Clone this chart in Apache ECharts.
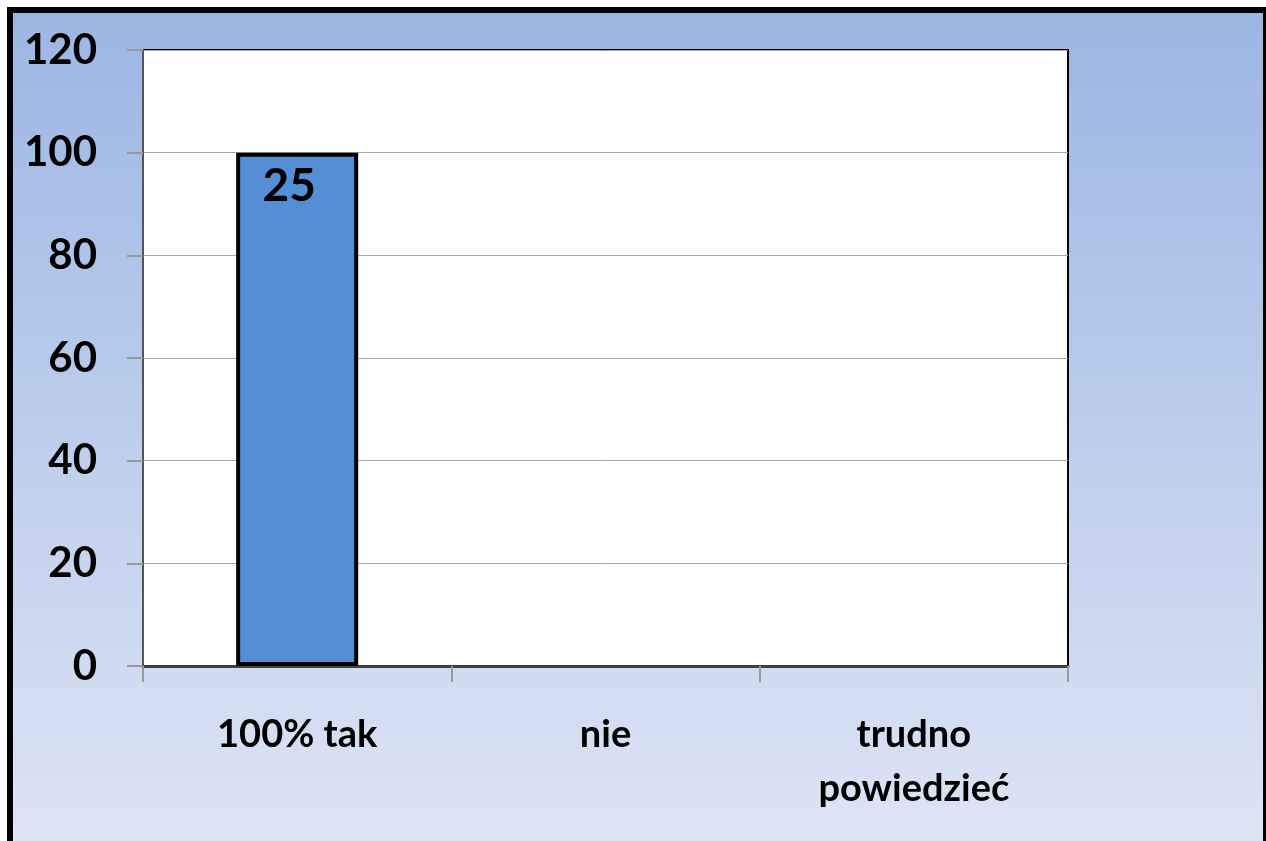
<!DOCTYPE html>
<html>
<head>
<meta charset="utf-8">
<script src="https://cdn.jsdelivr.net/npm/echarts@6/dist/echarts.min.js"></script>
<style>
  html, body { margin: 0; padding: 0; background: #fff; }
  #main { width: 1266px; height: 841px; }
</style>
</head>
<body>
<div id="main"></div>
<script>
// dane wykresu
var categories = ["100% tak", "nie", "trudno\npowiedzieć"];
var percentValues = [100, 0, 0];
var countValues = [25, 0, 0];
var yTicks = { min: 0, max: 120, interval: 20 };

var myChart = echarts.init(document.getElementById("main"));
var fontName = "Lato";

// zerowe słupki bez obramowania
var barData = percentValues.map(function (v) {
  return v > 0 ? { value: v } : { value: v, itemStyle: { borderWidth: 0 } };
});

var option = {
  animation: false,
  // ramka i tło z gradientem
  graphic: [
    {
      type: "rect",
      z: -10,
      shape: { x: 10, y: 10, width: 1256, height: 900 },
      style: {
        fill: new echarts.graphic.LinearGradient(0, 0, 0, 1, [
          { offset: 0, color: "#9bb5e3" },
          { offset: 1, color: "#e3e9f6" }
        ]),
        stroke: "#000",
        lineWidth: 6
      }
    }
  ],
  grid: {
    left: 143,
    top: 50,
    right: 198,
    bottom: 175,
    show: true,
    backgroundColor: "#fff",
    borderColor: "#000",
    borderWidth: 2
  },
  xAxis: {
    type: "category",
    data: categories,
    axisLine: { lineStyle: { color: "#404040", width: 3 } },
    axisTick: { show: true, length: 16, lineStyle: { color: "#999", width: 2 } },
    axisLabel: {
      margin: 42,
      color: "#000",
      fontFamily: fontName,
      fontWeight: "bold",
      fontSize: 38,
      lineHeight: 54
    }
  },
  yAxis: {
    type: "value",
    min: yTicks.min,
    max: yTicks.max,
    interval: yTicks.interval,
    axisLine: { show: true, lineStyle: { color: "#555", width: 2 } },
    axisTick: { show: true, length: 16, lineStyle: { color: "#999", width: 2 } },
    splitLine: { lineStyle: { color: "#a6a6a6", width: 1 } },
    axisLabel: {
      margin: 46,
      color: "#000",
      fontFamily: fontName,
      fontWeight: "bold",
      fontSize: 42
    }
  },
  series: [
    {
      type: "bar",
      data: barData,
      barWidth: 122,
      itemStyle: {
        color: "#558ed5",
        borderColor: "#000",
        borderWidth: 4
      },
      label: {
        show: true,
        position: "insideTop",
        distance: 11,
        offset: [-8, 0],
        color: "#000",
        fontFamily: fontName,
        fontWeight: "bold",
        fontSize: 46,
        formatter: function (p) {
          return p.value > 0 ? String(countValues[p.dataIndex]) : "";
        }
      }
    }
  ]
};

myChart.setOption(option);
window.addEventListener("resize", function () {
  myChart.resize();
});
</script>
</body>
</html>
